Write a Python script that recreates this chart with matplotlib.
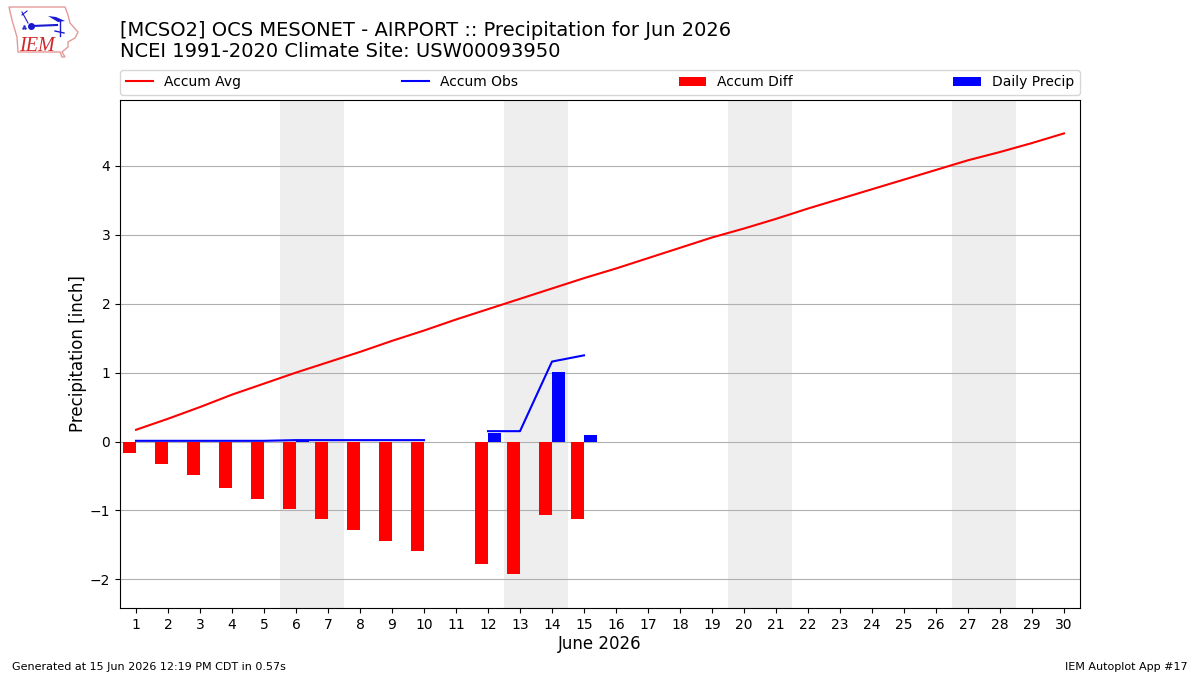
import numpy as np
import matplotlib
matplotlib.use("Agg")
import matplotlib.pyplot as plt
from matplotlib.patches import Polygon

days = list(range(1, 31))
accum_avg = [0.17, 0.33, 0.50, 0.68, 0.84, 1.00, 1.15, 1.30, 1.46, 1.61,
             1.77, 1.92, 2.07, 2.22, 2.37, 2.51, 2.66, 2.81, 2.96, 3.09,
             3.23, 3.38, 3.52, 3.66, 3.80, 3.94, 4.08, 4.20, 4.33, 4.47]
accum_obs = [0.01, 0.01, 0.01, 0.01, 0.01, 0.02, 0.02, 0.02, 0.02, 0.02,
             np.nan, 0.15, 0.15, 1.16, 1.25]
daily_precip = [0, 0, 0, 0, 0, 0.01, 0, 0, 0, 0, np.nan, 0.13, 0, 1.01, 0.10]
weekends = [(6, 7), (13, 14), (20, 21), (27, 28)]

obs_days = days[:len(accum_obs)]
accum_diff = [o - a for o, a in zip(accum_obs, accum_avg)]

fig = plt.figure(figsize=(12, 6.75), dpi=100)
ax = fig.add_axes([0.10, 0.0993, 0.80, 0.7526])

for start, end in weekends:
    ax.axvspan(start - 0.5, end + 0.5, color="#eeeeee", lw=0, zorder=0)

ax.plot(days, accum_avg, color="red", lw=1.5, label="Accum Avg", zorder=3)
ax.plot(obs_days, accum_obs, color="blue", lw=1.5, label="Accum Obs", zorder=3)
ax.bar(obs_days, accum_diff, width=-0.4, align="edge", color="red",
       label="Accum Diff", zorder=2)
ax.bar(obs_days, daily_precip, width=0.4, align="edge", color="blue",
       label="Daily Precip", zorder=2)

ax.set_xlim(0.5, 30.5)
ax.set_ylim(-2.415, 4.955)
ax.set_xticks(days)
ax.set_yticks([-2, -1, 0, 1, 2, 3, 4])
ax.yaxis.grid(True, color="#b0b0b0", lw=0.8, zorder=1)
ax.set_axisbelow(True)
ax.set_xlabel("June 2026", fontsize=12, labelpad=2.5)
ax.set_ylabel("Precipitation [inch]", fontsize=12, labelpad=2)

ax.legend(loc="lower left", bbox_to_anchor=(0, 1.01, 1, 0.04), ncol=4,
          mode="expand", borderaxespad=0, fontsize=10)

fig.text(0.10, 0.909, "[MCSO2] OCS MESONET - AIRPORT :: Precipitation for Jun 2026\n"
         "NCEI 1991-2020 Climate Site: USW00093950",
         fontsize=14, va="bottom", ha="left", linespacing=1.17)
fig.text(0.01, 0.0081, "Generated at 15 Jun 2026 12:19 PM CDT in 0.57s", fontsize=8)
fig.text(0.99, 0.0081, "IEM Autoplot App #17", fontsize=8, ha="right")

# small state outline logo, in pixel coordinates
logo = fig.add_axes([0, 0.9, 0.08, 0.1])
logo.set_xlim(0, 96)
logo.set_ylim(67.5, 0)
logo.axis("off")
outline = [(9, 7), (65, 7), (68, 15), (70, 23), (78, 32), (75, 38), (68, 42),
           (68, 47), (62, 52), (65, 57), (62, 57), (60, 52), (18, 52), (17, 37),
           (12, 20)]
logo.add_patch(Polygon(outline, closed=True, fill=False, ec="#e49a9a", lw=1.0))
blue = "#1a1ad0"
logo.plot([32, 57], [26, 25], color=blue, lw=1.5)
logo.plot([60, 60], [21, 36], color=blue, lw=1.0)
logo.plot([55, 64], [31, 33], color=blue, lw=1.0)
logo.plot([22, 28], [12, 23], color=blue, lw=0.8)
logo.plot([22, 27], [15, 11], color=blue, lw=0.8)
logo.plot([31], [26], "o", color=blue, ms=4)
logo.plot([23, 25, 24], [28, 28, 26], ".", color=blue, ms=1.5)
logo.add_patch(Polygon([(48, 16), (58, 22), (65, 21), (56, 17)], color=blue, lw=0))
logo.text(37, 51, "IEM", color="#d02828", fontsize=14.5, style="italic",
          family="Liberation Serif", ha="center", va="baseline")

fig.savefig("out.png", dpi=100)
